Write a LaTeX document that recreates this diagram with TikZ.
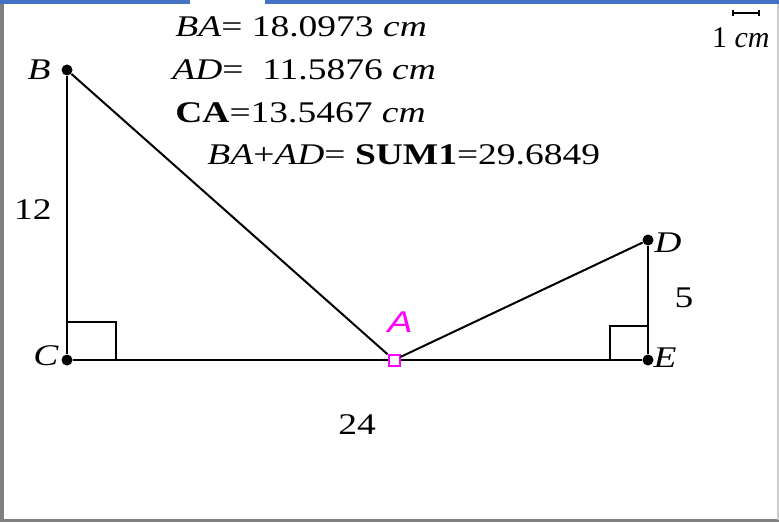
\documentclass[tikz,border=0pt]{standalone}
\usepackage{fontspec}
\setmainfont{Liberation Serif}
\newfontfamily\ptsans{Liberation Sans}
\usepackage{graphicx}
\usetikzlibrary{positioning}
\definecolor{tabblue}{RGB}{68,114,196}
\definecolor{ptpink}{RGB}{255,0,255}
\newcommand\wide[1]{\scalebox{1.25}[1]{#1}}

\begin{document}
\begin{tikzpicture}[x=0.5pt, y=-0.5pt, font=\fontsize{15}{18}\selectfont,
    dot/.style={circle, fill=black, inner sep=0pt, minimum size=5.5pt},
    free/.style={rectangle, draw=ptpink, fill=white, line width=1pt, inner sep=0pt, minimum size=5.5pt},
    seg/.style={line width=1pt},
    ang/.style={line width=0.9pt},
    meas/.style={anchor=base west, inner sep=0pt}]
    \useasboundingbox (0,0) rectangle (779,523);
    % frame
    \fill[tabblue] (0,0) rectangle (190,4);
    \fill[tabblue] (265,0) rectangle (779,4);
    \draw[gray, line width=2pt] (2,4) -- (2,521);
    \draw[gray, line width=1.5pt] (0,520) -- (779,520);
    \draw[gray!40, line width=0.6pt] (778,4) -- (778,520);
    % points
    \node[dot] (B) at (67,70) {};
    \node[dot] (C) at (67,360) {};
    \node[dot] (E) at (648,360) {};
    \node[dot] (D) at (648,240) {};
    \node[free] (A) at (394,360) {};
    % segments
    \draw[seg] (B) -- (C);
    \draw[seg] (C) -- (A);
    \draw[seg] (A) -- (E);
    \draw[seg] (D) -- (E);
    \draw[seg] (B) -- (A);
    \draw[seg] (A) -- (D);
    % right angles
    \draw[ang] ([yshift=19pt]C.center) -| ([xshift=24.5pt]C.center);
    \draw[ang] ([yshift=17pt]E.center) -| ([xshift=-19pt]E.center);
    % point labels
    \node (lB) at (39,70) {\wide{\textit{B}}};
    \node (lC) at (46,356) {\wide{\textit{C}}};
    \node (lE) at (665,358) {\wide{\textit{E}}};
    \node (lD) at (668,243) {\wide{\textit{D}}};
    \node[text=ptpink, font=\ptsans\itshape\fontsize{15}{18}\selectfont] (lA) at (400,322) {\wide{A}};
    % side lengths
    \node (len12) at (33,210) {\wide{12}};
    \node (len5) at (684,298) {\wide{5}};
    \node (len24) at (357,425) {\wide{24}};
    % measurements
    \node[meas] (mBA) at (175,37) {\wide{\textit{BA}= 18.0973 \textit{cm}}};
    \node[meas] (mAD) at (172,80) {\wide{\textit{AD}=\ \ 11.5876 \textit{cm}}};
    \node[meas] (mCA) at (175,123) {\wide{\textbf{CA}=13.5467 \textit{cm}}};
    \node[meas] (msum) at (207,165) {\wide{\textit{BA}+\textit{AD}= \textbf{SUM1}=29.6849}};
    % scale
    \node[anchor=base east, inner sep=0pt] (unit) at (770,48) {1 \textit{cm}};
    \coordinate (s1) at (733,13);
    \coordinate (s2) at (759,13);
    \draw[line width=0.8pt] (s1) -- (s2);
    \draw[line width=0.6pt] ([yshift=1.5pt]s1) -- ([yshift=-1.5pt]s1);
    \draw[line width=0.6pt] ([yshift=1.5pt]s2) -- ([yshift=-1.5pt]s2);
\end{tikzpicture}
\end{document}
